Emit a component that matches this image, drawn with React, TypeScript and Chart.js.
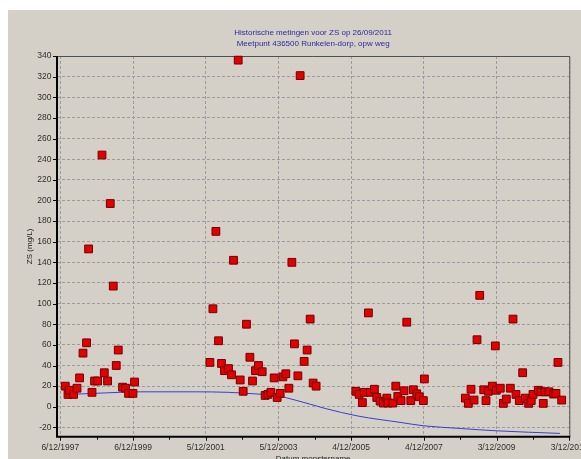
import React, { useEffect, useRef } from "react";
import { Chart, registerables } from "chart.js";

Chart.register(...registerables);

const TITLE_LINES = [
  "Historische metingen voor ZS op 26/09/2011",
  "Meetpunt 436500 Runkelen-dorp, opw weg",
];
const X_TITLE = "Datum monstername";
const Y_TITLE = "ZS (mg/L)";

const X_TICK_LABELS = [
  "6/12/1997",
  "6/12/1999",
  "5/12/2001",
  "5/12/2003",
  "4/12/2005",
  "4/12/2007",
  "3/12/2009",
  "3/12/2011",
];
const Y_TICKS = [-20, 0, 20, 40, 60, 80, 100, 120, 140, 160, 180, 200, 220, 240, 260, 280, 300, 320, 340];
const X_MIN = 1997.838;
const Y_MIN = -29;
const Y_MAX = 340;

// sample dates as decimal years
const sampleYears = [
  1998.066, 1998.141, 1998.176, 1998.294, 1998.388, 1998.459, 1998.553, 1998.651, 1998.706, 1998.8,
  1998.871, 1998.954, 1999.075, 1999.138, 1999.228, 1999.302, 1999.385, 1999.467, 1999.522, 1999.64,
  1999.723, 1999.805, 1999.926, 1999.97,
  2002.041, 2002.124, 2002.206, 2002.278, 2002.36, 2002.442, 2002.552, 2002.635, 2002.69, 2002.819,
  2002.874, 2002.956, 2003.047, 2003.14, 2003.212, 2003.294, 2003.376, 2003.478, 2003.56, 2003.635,
  2003.717, 2003.808, 2003.89, 2003.973, 2004.047, 2004.129, 2004.212, 2004.294, 2004.365, 2004.459,
  2004.522, 2004.632, 2004.714, 2004.797, 2004.879, 2004.961,
  2006.052, 2006.143, 2006.233, 2006.288, 2006.398, 2006.453, 2006.563, 2006.629, 2006.72, 2006.81,
  2006.905, 2006.935, 2007.068, 2007.151, 2007.206, 2007.296, 2007.378, 2007.453, 2007.563, 2007.634,
  2007.727, 2007.799, 2007.909, 2007.937,
  2009.063, 2009.145, 2009.219, 2009.302, 2009.384, 2009.458, 2009.568, 2009.631, 2009.694, 2009.804,
  2009.887, 2009.914, 2010.024, 2010.107, 2010.189, 2010.299, 2010.373, 2010.455, 2010.546, 2010.639,
  2010.712, 2010.803, 2010.875, 2010.922, 2011.068, 2011.142, 2011.205, 2011.252, 2011.362, 2011.491,
  2011.554, 2011.609, 2011.711,
];
const sampleValues = [
  20, 12, 16, 12, 18, 28, 52, 62, 153, 14,
  25, 25, 244, 33, 25, 197, 117, 40, 55, 19,
  18, 13, 13, 24,
  43, 95, 170, 64, 42, 35, 37, 31, 142, 336,
  26, 15, 80, 48, 25, 35, 40, 34, 11, 12,
  14, 28, 9, 13, 29, 32, 18, 140, 61, 30,
  321, 44, 55, 85, 23, 20,
  15, 12, 4, 14, 91, 14, 17, 9, 5.5, 3.6,
  8.4, 3.6, 3.6, 20, 10, 6, 15.5, 82, 6, 16.5,
  12.6, 9.7, 6, 27,
  8.4, 3.3, 17, 6.5, 65, 108, 16.5, 6, 15, 20,
  59, 16, 18, 3.3, 7.5, 18, 85, 12, 6, 33,
  8.4, 3.3, 6, 12, 16, 14.5, 3.3, 14.5, 14.5, 12.3,
  13, 43, 6.5,
];

// trend line
const trendYears = [
  1998.066, 1998.388, 1999.2, 2000.127, 2001.637, 2002.544, 2003.286, 2003.918, 2004.385, 2004.797,
  2005.209, 2006.115, 2007.269, 2007.909, 2008.917, 2009.925, 2011.664,
];
const trendValues = [
  12, 12.3, 13.5, 14.5, 14.5, 14, 12.5, 10.5, 6.5, 2.5,
  -1.6, -9, -15.1, -18.4, -21, -23.3, -25.8,
];

const FONT = '"Liberation Sans", Arial, sans-serif';
const BG = "#d4d0c8";
const GRID = "#9c9c9c";

function labelToYear(s: string): number {
  const [d, m, y] = s.split("/").map(Number);
  const doy = (Date.UTC(y, m - 1, d) - Date.UTC(y, 0, 1)) / 86400000;
  const leap = (y % 4 === 0 && y % 100 !== 0) || y % 400 === 0;
  return y + doy / (leap ? 366 : 365);
}

const X_TICK_VALUES = X_TICK_LABELS.map(labelToYear);
const X_MAX = X_TICK_VALUES[X_TICK_VALUES.length - 1];

const decorPlugin = {
  id: "decor",
  beforeDatasetsDraw(chart: any) {
    const { ctx, chartArea: a, scales } = chart;
    ctx.save();
    // top / right frame
    ctx.strokeStyle = "#505050";
    ctx.lineWidth = 1;
    ctx.beginPath();
    ctx.moveTo(a.left, a.top + 0.5);
    ctx.lineTo(a.right + 0.5, a.top + 0.5);
    ctx.lineTo(a.right + 0.5, a.bottom);
    ctx.stroke();
    // ticks
    ctx.strokeStyle = "#000";
    ctx.beginPath();
    for (const t of scales.y.ticks) {
      const py = Math.round(scales.y.getPixelForValue(t.value)) + 0.5;
      ctx.moveTo(a.left - 4, py);
      ctx.lineTo(a.left, py);
    }
    const xt = scales.x.ticks;
    for (let i = 0; i < xt.length; i++) {
      const px = Math.round(scales.x.getPixelForValue(xt[i].value)) + 0.5;
      ctx.moveTo(px, a.bottom);
      ctx.lineTo(px, a.bottom + 4);
      if (i < xt.length - 1) {
        const mid = Math.round(scales.x.getPixelForValue((xt[i].value + xt[i + 1].value) / 2)) + 0.5;
        ctx.moveTo(mid, a.bottom);
        ctx.lineTo(mid, a.bottom + 3);
      }
    }
    ctx.stroke();
    // axes
    ctx.lineWidth = 2;
    ctx.beginPath();
    ctx.moveTo(a.left, a.top);
    ctx.lineTo(a.left, a.bottom);
    ctx.lineTo(a.right + 1, a.bottom);
    ctx.stroke();
    ctx.restore();
  },
  afterDraw(chart: any) {
    const { ctx, chartArea: a } = chart;
    ctx.save();
    ctx.fillStyle = "#2a2aa0";
    ctx.font = `8px ${FONT}`;
    ctx.textAlign = "center";
    ctx.textBaseline = "middle";
    const cx = (a.left + a.right) / 2;
    TITLE_LINES.forEach((line, i) => ctx.fillText(line, cx, 23 + i * 11));
    ctx.restore();
  },
};

export default function App() {
  const ref = useRef<HTMLCanvasElement>(null);
  useEffect(() => {
    document.body.style.overflow = "hidden";
    const chart = new Chart(ref.current!, {
      type: "scatter",
      data: {
        datasets: [
          {
            label: "ZS",
            data: sampleYears.map((x, i) => ({ x, y: sampleValues[i] })),
            pointStyle: "rect",
            pointRadius: 5.5,
            pointBackgroundColor: "#e40000",
            pointBorderColor: "#700000",
            pointBorderWidth: 1,
            showLine: false,
            clip: false,
            order: 1,
          } as any,
          {
            label: "trend",
            data: trendYears.map((x, i) => ({ x, y: trendValues[i] })),
            showLine: true,
            pointRadius: 0,
            borderColor: "#3c3cd2",
            borderWidth: 1,
            cubicInterpolationMode: "monotone",
            clip: false,
            order: 2,
          } as any,
        ],
      },
      options: {
        animation: false,
        responsive: false,
        devicePixelRatio: 1,
        layout: { padding: { top: 46, right: 11.7, left: 0, bottom: 0 } },
        plugins: { legend: { display: false }, tooltip: { enabled: false }, title: { display: false } },
        scales: {
          x: {
            type: "linear",
            min: X_MIN,
            max: X_MAX,
            afterBuildTicks: (s: any) => {
              s.ticks = X_TICK_VALUES.map((v) => ({ value: v }));
            },
            afterFit: (s: any) => {
              s.height = 33.3;
              s.paddingLeft = 0;
              s.paddingRight = 0;
            },
            ticks: {
              autoSkip: false,
              maxRotation: 0,
              minRotation: 0,
              padding: 6,
              color: "#303030",
              font: { family: FONT, size: 8.5 },
              callback: (_v: any, i: number) => X_TICK_LABELS[i],
            },
            grid: { color: GRID, lineWidth: 1, drawTicks: false },
            border: { display: false, dash: [3, 2] },
            title: {
              display: true,
              text: X_TITLE,
              color: "#202020",
              font: { family: FONT, size: 8 },
              padding: { top: 0, bottom: 6.2 },
            },
          },
          y: {
            type: "linear",
            min: Y_MIN,
            max: Y_MAX,
            afterBuildTicks: (s: any) => {
              s.ticks = Y_TICKS.map((v) => ({ value: v }));
            },
            afterFit: (s: any) => {
              s.width = 49;
              s.paddingTop = 0;
              s.paddingBottom = 0;
            },
            ticks: {
              autoSkip: false,
              padding: 5.5,
              color: "#303030",
              font: { family: FONT, size: 8.5 },
              callback: (v: any) => String(v),
            },
            grid: { color: GRID, lineWidth: 1, drawTicks: false },
            border: { display: false, dash: [3, 2] },
            title: {
              display: true,
              text: Y_TITLE,
              color: "#202020",
              font: { family: FONT, size: 8 },
              padding: { top: 17.2, bottom: 0 },
            },
          },
        },
      },
      plugins: [decorPlugin],
    });
    return () => chart.destroy();
  }, []);
  return (
    <div style={{ position: "fixed", left: 8, top: 10, width: 573, height: 460, background: BG }}>
      <canvas ref={ref} width={573} height={460} style={{ display: "block" }} />
    </div>
  );
}
